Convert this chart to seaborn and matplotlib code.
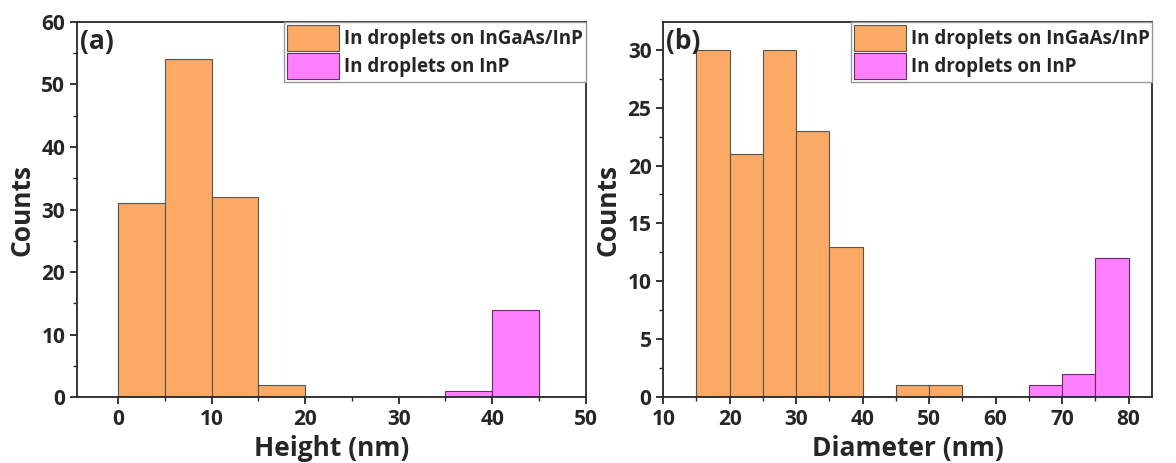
import numpy as np
import pandas as pd
import matplotlib
matplotlib.use("Agg")
import matplotlib.pyplot as plt
from matplotlib.ticker import AutoMinorLocator
import seaborn as sns

# bin left edges (nm) and counts
height_ingaas_bins = [0, 5, 10, 15]
height_ingaas_counts = [31, 54, 32, 2]
height_inp_bins = [35, 40]
height_inp_counts = [1, 14]

diam_ingaas_bins = [15, 20, 25, 30, 35, 45, 50]
diam_ingaas_counts = [30, 21, 30, 23, 13, 1, 1]
diam_inp_bins = [65, 70, 75]
diam_inp_counts = [1, 2, 12]

label_ingaas = "In droplets on InGaAs/InP"
label_inp = "In droplets on InP"
orange = "#FBA964"
magenta = "#FF80FF"
binw = 5

sns.set_style("ticks")
plt.rcParams['font.family'] = ['Open Sans', 'DejaVu Sans']
plt.rcParams['font.weight'] = 'bold'

fig = plt.figure(figsize=(11.76, 4.63), dpi=100)
ax1 = fig.add_axes([0.0655, 0.1425, 0.4325, 0.81])
ax2 = fig.add_axes([0.564, 0.1425, 0.416, 0.81])


def draw(ax, bins_a, counts_a, bins_b, counts_b, lo, hi):
    da = pd.DataFrame({"mid": np.array(bins_a, dtype=float) + binw / 2,
                       "n": np.array(counts_a, dtype=float)})
    db = pd.DataFrame({"mid": np.array(bins_b, dtype=float) + binw / 2,
                       "n": np.array(counts_b, dtype=float)})
    sns.histplot(data=da, x="mid", weights="n", binwidth=binw, binrange=(lo, hi),
                 color=orange, alpha=1, edgecolor="#555555", linewidth=0.8,
                 label=label_ingaas, ax=ax)
    sns.histplot(data=db, x="mid", weights="n", binwidth=binw, binrange=(lo, hi),
                 color=magenta, alpha=1, edgecolor="#6a2a6a", linewidth=0.8,
                 label=label_inp, ax=ax)
    ax.legend(loc="upper right", borderaxespad=0, handlelength=2.8,
              handleheight=1.75, handletextpad=0.25, labelspacing=0.12,
              borderpad=0.15, fancybox=False, edgecolor="#999999", framealpha=1,
              prop={'weight': 'bold', 'size': 13.5})
    ax.set_ylabel("Counts", fontsize=19, fontweight='bold')
    ax.xaxis.set_minor_locator(AutoMinorLocator(2))
    ax.yaxis.set_minor_locator(AutoMinorLocator(2))
    ax.tick_params(which='major', direction='out', length=5, width=1.3, labelsize=15)
    ax.tick_params(which='minor', direction='out', length=3, width=1.0)
    for s in ax.spines.values():
        s.set_linewidth(1.3)


draw(ax1, height_ingaas_bins, height_ingaas_counts, height_inp_bins, height_inp_counts,
     0, 45)
ax1.set_xlim(-4.4, 50)
ax1.set_ylim(0, 60)
ax1.set_xticks([0, 10, 20, 30, 40, 50])
ax1.set_yticks([0, 10, 20, 30, 40, 50, 60])
ax1.set_xlabel("Height (nm)", fontsize=19, fontweight='bold')
ax1.text(0.005, 0.985, "(a)", transform=ax1.transAxes, fontsize=19,
         fontweight='bold', va='top', ha='left')

draw(ax2, diam_ingaas_bins, diam_ingaas_counts, diam_inp_bins, diam_inp_counts,
     15, 80)
ax2.set_xlim(10, 83.6)
ax2.set_ylim(0, 32.4)
ax2.set_xticks([10, 20, 30, 40, 50, 60, 70, 80])
ax2.set_yticks([0, 5, 10, 15, 20, 25, 30])
ax2.set_xlabel("Diameter (nm)", fontsize=19, fontweight='bold')
ax2.text(0.005, 0.985, "(b)", transform=ax2.transAxes, fontsize=19,
         fontweight='bold', va='top', ha='left')

for ax in (ax1, ax2):
    for lab in ax.get_xticklabels() + ax.get_yticklabels():
        lab.set_fontweight('bold')

fig.savefig("out.png", dpi=100)
plt.close()
